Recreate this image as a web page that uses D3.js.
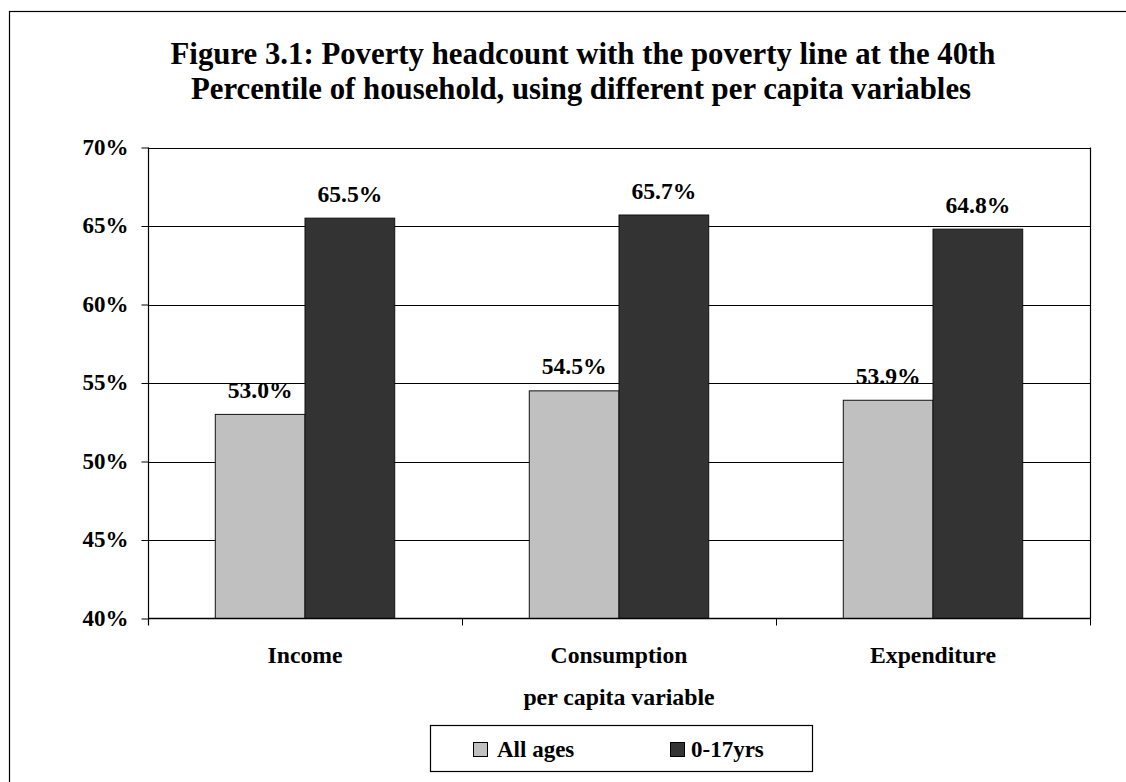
<!DOCTYPE html>
<html>
<head>
<meta charset="utf-8">
<script src="https://cdn.jsdelivr.net/npm/d3@7/dist/d3.min.js"></script>
<style>
  html, body { margin: 0; padding: 0; background: #ffffff; }
  svg { display: block; }
  text { font-family: "Liberation Serif", "Times New Roman", serif; font-weight: bold; fill: #000; }
</style>
</head>
<body>
<svg id="chart" width="1126" height="782"></svg>
<script>
// Poverty headcount by per capita variable
const categories = ["Income", "Consumption", "Expenditure"];
const seriesNames = ["All ages", "0-17yrs"];
const allAges = [53.0, 54.5, 53.9];
const youth = [65.5, 65.7, 64.8];
const yTicks = [40, 45, 50, 55, 60, 65, 70];
const titleLines = [
  "Figure 3.1: Poverty headcount with the poverty line at the 40th",
  "Percentile of household, using different per capita variables"
];
const xAxisTitle = "per capita variable";
const seriesColors = ["#c0c0c0", "#333333"];

const svg = d3.select("#chart");

// chart frame
svg.append("rect")
  .attr("x", 9.5).attr("y", 11.5)
  .attr("width", 1140).attr("height", 800)
  .attr("fill", "none").attr("stroke", "#000").attr("stroke-width", 1.2);

const plot = { left: 148, right: 1090, top: 147.5, bottom: 618.5 };

const x0 = d3.scaleBand().domain(categories).range([plot.left, plot.right]).padding(0);
const x1 = d3.scaleBand().domain(seriesNames).range([0, x0.bandwidth()])
  .paddingInner(0).paddingOuter(0.75);
const y = d3.scaleLinear().domain([40, 70]).range([plot.bottom, plot.top]);

// title
svg.append("text")
  .attr("text-anchor", "middle")
  .attr("font-size", 30.8)
  .selectAll("tspan").data(titleLines).join("tspan")
  .attr("x", (d, i) => i === 0 ? 583 : 581)
  .attr("y", (d, i) => 64 + i * 35)
  .text(d => d);

// horizontal gridlines
svg.append("g").selectAll("line").data(yTicks.filter(t => t > 40)).join("line")
  .attr("x1", plot.left).attr("x2", plot.right)
  .attr("y1", d => Math.round(y(d)) + 0.5).attr("y2", d => Math.round(y(d)) + 0.5)
  .attr("stroke", "#000").attr("stroke-width", 1);

// right border of plot area
svg.append("line")
  .attr("x1", plot.right + 0.5).attr("x2", plot.right + 0.5)
  .attr("y1", plot.top).attr("y2", plot.bottom)
  .attr("stroke", "#000").attr("stroke-width", 1.2);

// bars
const rows = categories.map((c, i) => ({ cat: c, vals: [allAges[i], youth[i]] }));
const groups = svg.append("g").selectAll("g").data(rows).join("g")
  .attr("transform", d => `translate(${x0(d.cat)},0)`);

groups.selectAll("rect").data(d => d.vals.map((v, j) => ({ s: seriesNames[j], v, j })))
  .join("rect")
  .attr("x", d => x1(d.s))
  .attr("y", d => y(d.v))
  .attr("width", x1.bandwidth())
  .attr("height", d => y(40) - y(d.v))
  .attr("fill", d => seriesColors[d.j])
  .attr("stroke", "#111").attr("stroke-width", 1);

groups.selectAll("text.val").data(d => d.vals.map((v, j) => ({ s: seriesNames[j], v, j })))
  .join("text")
  .attr("class", "val")
  .attr("x", d => x1(d.s) + x1.bandwidth() / 2)
  .attr("y", d => y(d.v) - 16.5)
  .attr("text-anchor", "middle")
  .attr("font-size", 23.6)
  .text(d => d.v.toFixed(1) + "%");

// y axis
const yAxis = d3.axisLeft(y).tickValues(yTicks).tickSize(7).tickPadding(13)
  .tickFormat(d => d + "%");
const gy = svg.append("g").attr("transform", `translate(${plot.left + 0.5},0)`).call(yAxis);
gy.select(".domain").attr("stroke", "#000").attr("stroke-width", 1.2)
  .attr("d", `M0,${plot.top}V${plot.bottom + 7}`);
gy.selectAll(".tick line").attr("stroke", "#000");
gy.selectAll(".tick text")
  .attr("font-size", 23).attr("font-family", "Liberation Serif").attr("font-weight", "bold")
  .attr("fill", "#000").attr("dy", "0.3em");

// x axis
const xAxis = d3.axisBottom(x0).tickSize(0).tickPadding(0);
const gx = svg.append("g").attr("transform", `translate(0,${plot.bottom})`).call(xAxis);
gx.select(".domain").attr("stroke", "#000").attr("stroke-width", 1.5)
  .attr("d", `M${plot.left},0H${plot.right + 1}`);
gx.selectAll(".tick text")
  .attr("font-size", 23.7).attr("font-family", "Liberation Serif").attr("font-weight", "bold")
  .attr("fill", "#000").attr("dy", 0).attr("y", 663 - plot.bottom);

// category boundary ticks
svg.append("g").selectAll("line")
  .data(categories.slice(1).map(c => x0(c)).concat([plot.right]))
  .join("line")
  .attr("x1", d => d + 0.5).attr("x2", d => d + 0.5)
  .attr("y1", plot.bottom).attr("y2", plot.bottom + 7)
  .attr("stroke", "#000").attr("stroke-width", 1);

// x axis title
svg.append("text")
  .attr("x", x0("Consumption") + x0.bandwidth() / 2)
  .attr("y", 705)
  .attr("text-anchor", "middle")
  .attr("font-size", 23.8)
  .text(xAxisTitle);

// legend
const legend = svg.append("g");
legend.append("rect")
  .attr("x", 430.5).attr("y", 725.5).attr("width", 382).attr("height", 46)
  .attr("fill", "#fff").attr("stroke", "#000").attr("stroke-width", 1.2);
const legendX = [473, 670];
const items = legend.selectAll("g").data(seriesNames).join("g")
  .attr("transform", (d, i) => `translate(${legendX[i]},0)`);
items.append("rect")
  .attr("x", 0.5).attr("y", 742.5).attr("width", 14).attr("height", 14)
  .attr("fill", (d, i) => seriesColors[i]).attr("stroke", "#000").attr("stroke-width", 1);
items.append("text")
  .attr("x", (d, i) => i === 0 ? 24 : 21)
  .attr("y", 757)
  .attr("font-size", 23)
  .text(d => d);
</script>
</body>
</html>
